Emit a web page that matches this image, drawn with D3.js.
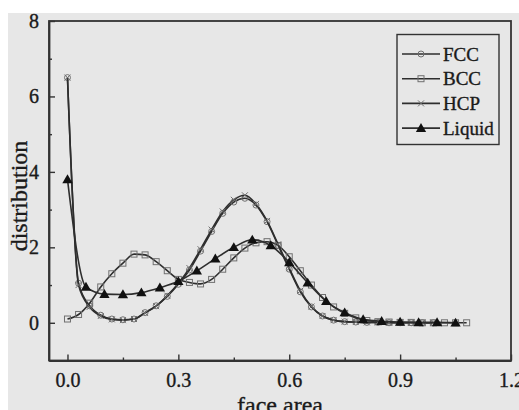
<!doctype html>
<html lang="en">
<head>
<meta charset="UTF-8">
<title>face area distribution</title>
<script src="https://cdn.jsdelivr.net/npm/d3@7"></script>
<style>
  body { margin: 0; background: #fff; }
  text { font-family: "Liberation Serif", "Times New Roman", serif; fill: #1a1a1a; stroke: #1a1a1a; stroke-width: 0.35px; }
</style>
</head>
<body>
<svg width="519" height="410"></svg>
<script>
// x positions (face area) of the sampled points
const xFine = [0, 0.03, 0.06, 0.09, 0.12, 0.15, 0.18, 0.21, 0.24, 0.27, 0.30, 0.33, 0.36, 0.39,
  0.42, 0.45, 0.48, 0.51, 0.54, 0.57, 0.60, 0.63, 0.66, 0.69, 0.72, 0.75, 0.78, 0.81, 0.84,
  0.87, 0.90, 0.93, 0.96, 0.99, 1.02, 1.05, 1.08];
const xLiquid = [0, 0.05, 0.10, 0.15, 0.20, 0.25, 0.30, 0.35, 0.40, 0.45, 0.50, 0.55, 0.60,
  0.65, 0.70, 0.75, 0.80, 0.85, 0.90, 0.95, 1.00, 1.05];

const fcc = [6.5, 1.05, 0.45, 0.2, 0.1, 0.08, 0.1, 0.27, 0.45, 0.7, 1.02, 1.4, 1.9, 2.42,
  2.9, 3.2, 3.3, 3.12, 2.68, 2.05, 1.42, 0.82, 0.42, 0.18, 0.07, 0.03, 0.02, 0.01, 0.01,
  0, 0, 0, 0, 0];
const hcp = [6.5, 1.0, 0.42, 0.18, 0.09, 0.07, 0.1, 0.26, 0.44, 0.72, 1.05, 1.45, 1.95, 2.47,
  2.95, 3.26, 3.38, 3.15, 2.7, 2.08, 1.45, 0.85, 0.43, 0.18, 0.07, 0.03, 0.02, 0.01, 0.01,
  0, 0, 0, 0, 0];
const bcc = [0.1, 0.22, 0.52, 0.95, 1.3, 1.58, 1.82, 1.8, 1.62, 1.38, 1.15, 1.07, 1.03, 1.15,
  1.42, 1.72, 1.98, 2.12, 2.15, 2.05, 1.75, 1.38, 1.0, 0.67, 0.42, 0.25, 0.13, 0.06, 0.03,
  0.02, 0.01, 0.01, 0, 0, 0, 0, 0];
const liquid = [3.8, 0.95, 0.76, 0.75, 0.8, 0.93, 1.1, 1.38, 1.7, 2.0, 2.2, 2.05, 1.6, 1.06,
  0.57, 0.27, 0.09, 0.04, 0.02, 0.01, 0.01, 0.0];

const seriesNames = ["FCC", "BCC", "HCP", "Liquid"];
const xTicks = [0, 0.3, 0.6, 0.9, 1.2];
const xMinor = [0.15, 0.45, 0.75, 1.05];
const yTicks = [0, 2, 4, 6, 8];
const yMinor = [-1, 1, 3, 5, 7];

const series = [
  { name: "FCC", xs: xFine, ys: fcc, marker: "circle" },
  { name: "BCC", xs: xFine, ys: bcc, marker: "square" },
  { name: "HCP", xs: xFine, ys: hcp, marker: "cross" },
  { name: "Liquid", xs: xLiquid, ys: liquid, marker: "triangle" }
];

const svg = d3.select("svg");
const W = 519, H = 410;
const m = { left: 49, top: 21, right: 511, bottom: 360.5 };

// scanned-paper background
svg.append("rect").attr("x", 8).attr("y", 13).attr("width", W - 8).attr("height", H - 13)
  .attr("fill", "#e7e7e7");

const x = d3.scaleLinear().domain([-0.05, 1.2]).range([m.left, m.right]);
const y = d3.scaleLinear().domain([-1, 8]).range([m.bottom, m.top]);

const lineCol = "#2e2e2e", markCol = "#707070";

// frame
svg.append("rect").attr("x", m.left).attr("y", m.top)
  .attr("width", m.right - m.left).attr("height", m.bottom - m.top)
  .attr("fill", "none").attr("stroke", "#333").attr("stroke-width", 1.8);

// axes with inward ticks
svg.append("g").attr("transform", `translate(0,${m.bottom})`)
  .call(d3.axisBottom(x).tickValues(xTicks).tickFormat(d3.format(".1f")).tickSizeInner(-6).tickSizeOuter(0).tickPadding(12));
svg.append("g").attr("transform", `translate(0,${m.bottom})`)
  .call(d3.axisBottom(x).tickValues(xMinor).tickFormat("").tickSizeInner(-3).tickSizeOuter(0))
  .select(".domain").remove();
svg.append("g").attr("transform", `translate(${m.left},0)`)
  .call(d3.axisLeft(y).tickValues(yTicks).tickSizeInner(-6).tickSizeOuter(0).tickPadding(10));
svg.append("g").attr("transform", `translate(${m.left},0)`)
  .call(d3.axisLeft(y).tickValues(yMinor).tickFormat("").tickSizeInner(-3).tickSizeOuter(0))
  .select(".domain").remove();
svg.selectAll(".domain").attr("stroke", "#333").attr("stroke-width", 1.8);
svg.selectAll(".tick line").attr("stroke", "#333").attr("stroke-width", 1.4);
svg.selectAll(".tick text").style("font-family", "Liberation Serif, serif")
  .style("font-size", "20px").attr("fill", "#1a1a1a");

// axis titles
svg.append("text").attr("x", 280).attr("y", 413).attr("text-anchor", "middle")
  .style("font-size", "24px").text("face area");
svg.append("text").attr("transform", "translate(27,196) rotate(-90)").attr("text-anchor", "middle")
  .style("font-size", "24px").text("distribution");

// marker drawing
function drawMarker(g, type, cx, cy) {
  if (type === "circle") {
    g.append("circle").attr("cx", cx).attr("cy", cy).attr("r", 3)
      .attr("fill", "none").attr("stroke", markCol).attr("stroke-width", 1);
  } else if (type === "square") {
    g.append("rect").attr("x", cx - 3).attr("y", cy - 3).attr("width", 6).attr("height", 6)
      .attr("fill", "none").attr("stroke", markCol).attr("stroke-width", 1);
  } else if (type === "cross") {
    g.append("path").attr("d", `M${cx - 3},${cy - 3}L${cx + 3},${cy + 3}M${cx - 3},${cy + 3}L${cx + 3},${cy - 3}`)
      .attr("stroke", markCol).attr("stroke-width", 1);
  } else {
    g.append("path").attr("d", d3.symbol(d3.symbolTriangle, 46)())
      .attr("transform", `translate(${cx},${cy + 0.8})`).attr("fill", "#111");
  }
}

const line = d3.line().curve(d3.curveMonotoneX);

series.forEach(s => {
  const pts = s.ys.map((v, i) => [x(s.xs[i]), y(v)]);
  const g = svg.append("g").attr("class", "series-" + s.name);
  g.append("path").attr("d", line(pts)).attr("fill", "none")
    .attr("stroke", lineCol).attr("stroke-width", 1.6);
  pts.forEach(p => drawMarker(g, s.marker, p[0], p[1]));
});

// legend
const lg = svg.append("g");
lg.append("rect").attr("x", 397).attr("y", 34.5).attr("width", 102).attr("height", 110)
  .attr("fill", "none").attr("stroke", "#333").attr("stroke-width", 1.4);
series.forEach((s, i) => {
  const ly = 54 + i * 24.7;
  lg.append("line").attr("x1", 402).attr("x2", 440).attr("y1", ly).attr("y2", ly)
    .attr("stroke", lineCol).attr("stroke-width", 1.6);
  drawMarker(lg, s.marker, 421, ly);
  lg.append("text").attr("x", 443).attr("y", ly + 6.5).style("font-size", "19px").text(seriesNames[i]);
});
</script>
</body>
</html>
